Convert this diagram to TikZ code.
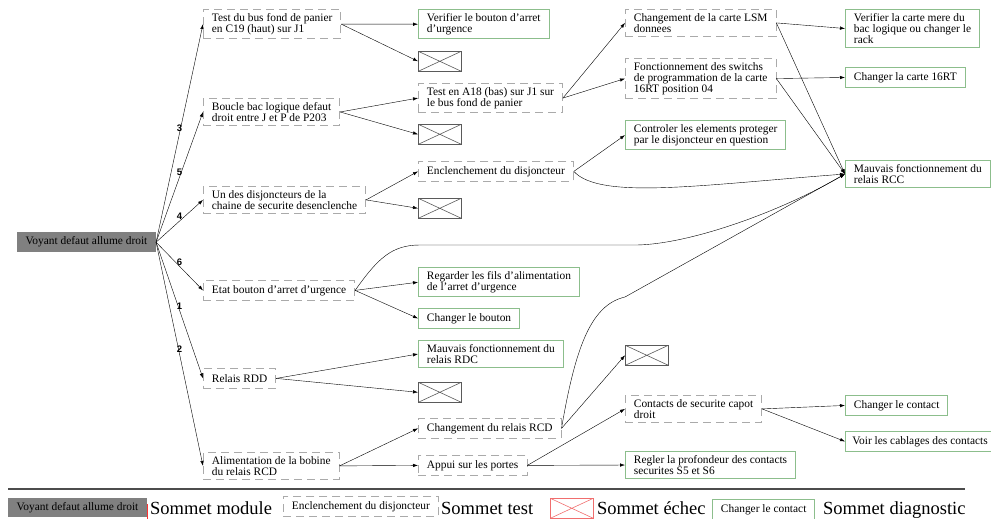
\documentclass[tikz,border=0pt]{standalone}
\usepackage{fontspec}
\setmainfont{Liberation Serif}
\newfontfamily\labelfont{Liberation Sans}
\usetikzlibrary{arrows.meta}

\definecolor{modgray}{RGB}{128,128,128}
\definecolor{testgray}{RGB}{170,170,170}
\definecolor{diaggreen}{RGB}{140,190,140}
\definecolor{failgray}{RGB}{90,90,90}
\definecolor{failred}{RGB}{240,110,110}

\begin{document}
\begin{tikzpicture}[x=1pt, y=-1pt,
    >={Latex[length=5pt,width=3.4pt]},
    every node/.style={font=\fontsize{11.4}{11}\selectfont, align=left, inner xsep=8.5pt, inner ysep=4pt, minimum height=20pt, anchor=north west},
    modbox/.style={fill=modgray},
    testbox/.style={draw=testgray, line width=0.8pt, dash pattern=on 8pt off 5pt},
    diagbox/.style={draw=diaggreen, line width=0.9pt},
    failbox/.style={draw=#1, line width=0.6pt, minimum width=43pt, minimum height=20pt, inner sep=0pt,
      path picture={\draw[#1, line width=0.6pt] (path picture bounding box.north west) -- (path picture bounding box.south east)
        (path picture bounding box.south west) -- (path picture bounding box.north east);}},
    failbox/.default=failgray,
    edgenum/.style={font=\labelfont\bfseries\fontsize{9.5}{9.5}\selectfont, inner sep=1pt, minimum height=0pt, midway, above},
    legtext/.style={font=\fontsize{18.5}{18.5}\selectfont, anchor=base west, inner sep=0pt, minimum height=0pt}]
  \useasboundingbox (0,0) rectangle (991,519);

  \node[modbox] (root) at (17,232) {Voyant defaut allume droit};

  \node[testbox] (bus) at (203,9) {Test du bus fond de panier\\en C19 (haut) sur J1};
  \node[testbox] (boucle) at (203,98) {Boucle bac logique defaut\\droit entre J et P de P203};
  \node[testbox] (disj) at (203,186) {Un des disjoncteurs de la\\chaine de securite desenclenche};
  \node[testbox] (etat) at (203,280) {Etat bouton d'arret d'urgence};
  \node[testbox] (rdd) at (203,368) {Relais RDD};
  \node[testbox] (alim) at (203,452) {Alimentation de la bobine\\du relais RCD};

  \node[diagbox] (verif) at (418,9) {Verifier le bouton d'arret\\d'urgence};
  \node[failbox] (f1) at (418,51) {};
  \node[testbox] (a18) at (418,83) {Test en A18 (bas) sur J1 sur\\le bus fond de panier};
  \node[failbox] (f2) at (418,124) {};
  \node[testbox] (encl) at (418,161) {Enclenchement du disjoncteur};
  \node[failbox] (f3) at (418,198) {};
  \node[diagbox] (fils) at (418,267) {Regarder les fils d'alimentation\\de l'arret d'urgence};
  \node[diagbox] (bouton) at (418,308) {Changer le bouton};
  \node[diagbox] (rdc) at (418,340) {Mauvais fonctionnement du\\relais RDC};
  \node[failbox] (f4) at (418,382) {};
  \node[testbox] (chrcd) at (418,418) {Changement du relais RCD};
  \node[testbox] (portes) at (418,455) {Appui sur les portes};

  \node[testbox] (lsm) at (625,9) {Changement de la carte LSM\\donnees};
  \node[testbox] (switch) at (625,58) {Fonctionnement des switchs\\de programmation de la carte\\16RT position 04};
  \node[diagbox] (ctrl) at (625,120) {Controler les elements proteger\\par le disjoncteur en question};
  \node[failbox] (f5) at (625,345) {};
  \node[testbox] (capot) at (625,395) {Contacts de securite capot\\droit};
  \node[diagbox] (regler) at (625,451) {Regler la profondeur des contacts\\securites S5 et S6};

  \node[diagbox] (mere) at (845,9) {Verifier la carte mere du\\bac logique ou changer le\\rack};
  \node[diagbox] (c16) at (845,67) {Changer la carte 16RT};
  \node[diagbox] (rcc) at (845,160) {Mauvais fonctionnement du\\relais RCC};
  \node[diagbox] (contact) at (845,395) {Changer le contact};
  \node[diagbox, inner xsep=7pt] (cabl) at (845,431) {Voir les cablages des contacts};

  \path[->] (root.east) edge node[edgenum] {3} (bus.west)
    edge node[edgenum] {5} (boucle.west)
    edge node[edgenum] {4} (disj.west)
    edge node[edgenum] {6} (etat.west)
    edge node[edgenum] {1} (rdd.west)
    edge node[edgenum] {2} (alim.west);

  \path[->] (bus.east) edge (verif.west) edge (f1.west);
  \path[->] (boucle.east) edge (a18.west) edge (f2.west);
  \path[->] (disj.east) edge (encl.west) edge (f3.west);
  \path[->] (etat.east) edge (fils.west) edge (bouton.west);
  \path[->] (rdd.east) edge (rdc.west) edge (f4.west);
  \path[->] (alim.east) edge (chrcd.west) edge (portes.west);

  \path[->] (a18.east) edge (lsm.west) edge (switch.west);
  \path[->] (encl.east) edge (ctrl.west);
  \path[->] (chrcd.east) edge (f5.west);
  \path[->] (portes.east) edge (capot.west) edge (regler.west);

  \path[->] (lsm.east) edge (mere.west) edge (rcc.west);
  \path[->] (switch.east) edge (c16.west) edge (rcc.west);
  \path[->] (capot.east) edge (contact.west) edge (cabl.west);

  \draw[->] (etat.east) .. controls (378,258) and (392,245) .. (420,245) -- (637,245) .. controls (690,244) and (780,212) .. (rcc.west);
  \draw[->] (encl.east) .. controls (600,200) and (700,185) .. (rcc.west);
  \draw[->] (chrcd.east) .. controls (575,350) and (590,305) .. (625,297) -- (rcc.west);

  \draw[black!70, line width=1.2pt] (8,489) -- (965,489);
  \node[modbox, minimum height=19pt] (lgmod) at (8,498) {Voyant defaut allume droit};
  \draw[red!80, line width=0.6pt] ([yshift=-6pt]lgmod.north east) -- ([yshift=-2pt]lgmod.south east);
  \node[legtext] (lgmodtxt) at (150,514) {Sommet module};
  \node[testbox] (lgtest) at (283,496) {Enclenchement du disjoncteur};
  \node[legtext] (lgtesttxt) at (441,514) {Sommet test};
  \node[failbox=failred] (lgfail) at (550,498) {};
  \node[legtext] (lgfailtxt) at (597,514) {Sommet échec};
  \node[diagbox] (lgdiag) at (712,499) {Changer le contact};
  \node[legtext] (lgdiagtxt) at (823,514) {Sommet diagnostic};
\end{tikzpicture}
\end{document}
